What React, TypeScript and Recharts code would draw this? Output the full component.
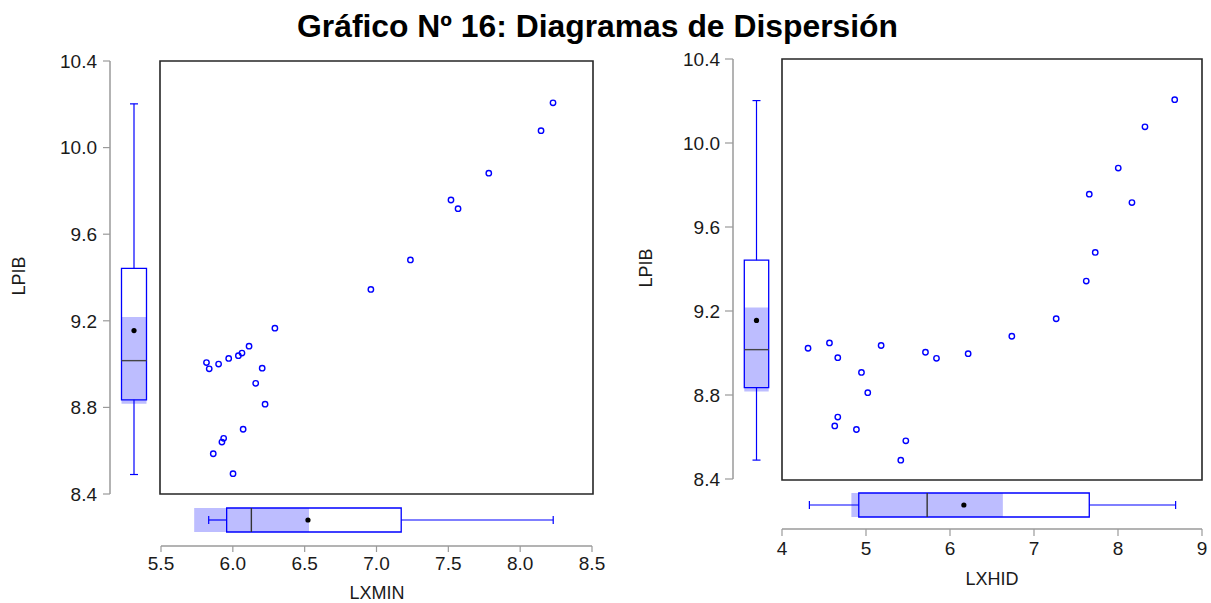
import {
  ScatterChart, ComposedChart, Scatter, XAxis, YAxis, ReferenceArea, ReferenceLine,
} from 'recharts';

// Observations sorted by LPIB (descending); LXMIN and LXHID paired by row
const lpib = [10.207, 10.078, 9.882, 9.758, 9.718, 9.481, 9.345, 9.166, 9.083, 9.051, 9.039, 9.026, 9.007, 9.0, 8.981, 8.978, 8.911, 8.815, 8.699, 8.657, 8.64, 8.586, 8.494];
const lxmin = [8.223, 8.14, 7.778, 7.516, 7.565, 7.235, 6.961, 6.296, 6.117, 6.068, 6.043, 5.976, 5.822, 5.906, 6.208, 5.841, 6.163, 6.228, 6.076, 5.941, 5.929, 5.869, 6.006];
const lxhid = [8.675, 8.321, 8.003, 7.658, 8.166, 7.729, 7.622, 7.264, 6.736, 4.565, 5.18, 4.31, 5.708, 6.216, 4.664, 5.839, 4.946, 5.021, 4.664, 4.628, 4.886, 5.474, 5.414];

// box stats: [min, q1, median, q3, max], mean, median notch [lo, hi]
const lpibBox = [8.49, 8.835, 9.016, 9.442, 10.202];
const lpibMean = 9.155;
const lpibNotch = [8.817, 9.217];
const lxminBox = [5.832, 5.957, 6.129, 7.172, 8.23];
const lxminMean = 6.523;
const lxminNotch = [5.731, 6.53];
const lxhidBox = [4.326, 4.914, 5.728, 7.658, 8.686];
const lxhidMean = 6.165;
const lxhidNotch = [4.826, 6.629];

const lpibTicks = [8.4, 8.8, 9.2, 9.6, 10.0, 10.4];
const lxminTicks = [5.5, 6.0, 6.5, 7.0, 7.5, 8.0, 8.5];
const lxhidTicks = [4, 5, 6, 7, 8, 9];

const FONT = '"Liberation Sans", Arial, sans-serif';
const BLUE = '#0000ff';
const NOTCH = '#bdbdff';
const AXIS = '#9a9a9a';
const tickStyle = { fill: '#1a1a1a', fontSize: 19, fontFamily: FONT };

const dot = (color: string, r: number, filled: boolean) => (p: any) => (
  <circle cx={p.cx} cy={p.cy} r={r} fill={filled ? color : 'none'} stroke={color} strokeWidth={filled ? 0 : 1.4} />
);

function ScatterPanel({ left, top, width, height, margin, xs, xDomain }: any) {
  const data = xs.map((x: number, i: number) => ({ x, y: lpib[i] }));
  return (
    <div style={{ position: 'absolute', left, top }}>
      <ScatterChart width={width} height={height} margin={margin}>
        <XAxis type="number" dataKey="x" domain={xDomain} allowDataOverflow hide />
        <YAxis type="number" dataKey="y" domain={[8.4, 10.4]} allowDataOverflow hide />
        <ReferenceArea x1={xDomain[0]} x2={xDomain[1]} y1={8.4} y2={10.4} fill="none" stroke="#262626" strokeWidth={1.6} ifOverflow="visible" />
        <Scatter data={data} shape={dot(BLUE, 2.7, false)} isAnimationActive={false} />
      </ScatterChart>
    </div>
  );
}

// marginal box on the LPIB axis (vertical)
function VBox({ left, top, width, height, margin, axisWidth, span, cx, half, tickSize, tickMargin }: any) {
  const [mn, q1, md, q3, mx] = lpibBox;
  return (
    <div style={{ position: 'absolute', left, top }}>
      <ComposedChart width={width} height={height} margin={margin}>
        <XAxis type="number" dataKey="x" domain={[0, span]} allowDataOverflow hide />
        <YAxis type="number" dataKey="y" domain={[8.4, 10.4]} ticks={lpibTicks} allowDataOverflow width={axisWidth}
          tickFormatter={(v: number) => v.toFixed(1)} tick={tickStyle} tickSize={tickSize} tickMargin={tickMargin}
          axisLine={{ stroke: AXIS, strokeWidth: 1.5 }} tickLine={{ stroke: AXIS, strokeWidth: 1.2 }} />
        <ReferenceArea x1={cx - half} x2={cx + half} y1={lpibNotch[0]} y2={lpibNotch[1]} fill={NOTCH} fillOpacity={1} stroke="none" />
        <ReferenceArea x1={cx - half} x2={cx + half} y1={q1} y2={q3} fill="none" stroke={BLUE} strokeWidth={1.3} />
        <ReferenceLine segment={[{ x: cx, y: q3 }, { x: cx, y: mx }]} stroke={BLUE} strokeWidth={1.2} />
        <ReferenceLine segment={[{ x: cx, y: q1 }, { x: cx, y: mn }]} stroke={BLUE} strokeWidth={1.2} />
        <ReferenceLine segment={[{ x: cx - 4, y: mx }, { x: cx + 4, y: mx }]} stroke={BLUE} strokeWidth={1.2} />
        <ReferenceLine segment={[{ x: cx - 4, y: mn }, { x: cx + 4, y: mn }]} stroke={BLUE} strokeWidth={1.2} />
        <ReferenceLine segment={[{ x: cx - half, y: md }, { x: cx + half, y: md }]} stroke="#444" strokeWidth={1.4} />
        <Scatter data={[{ x: cx, y: lpibMean }]} shape={dot('#000', 2.6, true)} isAnimationActive={false} />
      </ComposedChart>
    </div>
  );
}

// marginal box on the regressor axis (horizontal)
function HBox({ left, top, width, height, margin, axisHeight, span, cy, half, stats, mean, notch, xDomain, ticks, fmt, tickSize, tickMargin }: any) {
  const [mn, q1, md, q3, mx] = stats;
  return (
    <div style={{ position: 'absolute', left, top }}>
      <ComposedChart width={width} height={height} margin={margin}>
        <XAxis type="number" dataKey="x" domain={xDomain} ticks={ticks} allowDataOverflow height={axisHeight}
          tickFormatter={fmt} tick={tickStyle} tickSize={tickSize} tickMargin={tickMargin} interval={0}
          axisLine={{ stroke: AXIS, strokeWidth: 1.5 }} tickLine={{ stroke: AXIS, strokeWidth: 1.2 }} />
        <YAxis type="number" dataKey="y" domain={[0, span]} allowDataOverflow hide />
        <ReferenceArea x1={notch[0]} x2={notch[1]} y1={cy - half} y2={cy + half} fill={NOTCH} fillOpacity={1} stroke="none" />
        <ReferenceArea x1={q1} x2={q3} y1={cy - half} y2={cy + half} fill="none" stroke={BLUE} strokeWidth={1.3} />
        <ReferenceLine segment={[{ x: q3, y: cy }, { x: mx, y: cy }]} stroke={BLUE} strokeWidth={1.2} />
        <ReferenceLine segment={[{ x: q1, y: cy }, { x: mn, y: cy }]} stroke={BLUE} strokeWidth={1.2} />
        <ReferenceLine segment={[{ x: mx, y: cy - 4 }, { x: mx, y: cy + 4 }]} stroke={BLUE} strokeWidth={1.2} />
        <ReferenceLine segment={[{ x: mn, y: cy - 4 }, { x: mn, y: cy + 4 }]} stroke={BLUE} strokeWidth={1.2} />
        <ReferenceLine segment={[{ x: md, y: cy - half }, { x: md, y: cy + half }]} stroke="#333" strokeWidth={1.4} />
        <Scatter data={[{ x: mean, y: cy }]} shape={dot('#000', 2.6, true)} isAnimationActive={false} />
      </ComposedChart>
    </div>
  );
}

export default function App() {
  return (
    <div style={{ position: 'absolute', left: 0, top: 0, width: 1211, height: 603, background: '#fff', fontFamily: FONT, overflow: 'hidden' }}>
      {/* left panel: LPIB vs LXMIN */}
      <VBox left={0} top={40} width={160} height={470} margin={{ top: 21, right: 0, bottom: 16, left: 0 }}
        axisWidth={110} span={50} cx={24} half={12.5} tickSize={7} tickMargin={6} />
      <ScatterPanel left={150} top={50} width={460} height={460} margin={{ top: 11, right: 17, bottom: 16, left: 10 }}
        xs={lxmin} xDomain={[5.5, 8.5]} />
      <HBox left={100} top={496} width={520} height={107} margin={{ top: 4, right: 28, bottom: 0, left: 61 }}
        axisHeight={57} span={46} cy={26} half={12} stats={lxminBox} mean={lxminMean} notch={lxminNotch}
        xDomain={[5.5, 8.5]} ticks={lxminTicks} fmt={(v: number) => v.toFixed(1)} tickSize={6} tickMargin={5} />

      {/* right panel: LPIB vs LXHID */}
      <VBox left={620} top={40} width={162} height={460} margin={{ top: 19, right: 0, bottom: 21, left: 0 }}
        axisWidth={113} span={49} cx={23.5} half={12.2} tickSize={8} tickMargin={5} />
      <ScatterPanel left={770} top={45} width={441} height={450} margin={{ top: 14, right: 9, bottom: 15, left: 12 }}
        xs={lxhid} xDomain={[4, 9]} />
      <HBox left={720} top={485} width={491} height={118} margin={{ top: 4, right: 9, bottom: 0, left: 62 }}
        axisHeight={74} span={40} cy={24} half={12} stats={lxhidBox} mean={lxhidMean} notch={lxhidNotch}
        xDomain={[4, 9]} ticks={lxhidTicks} fmt={(v: number) => String(v)} tickSize={7} tickMargin={6} />

      <svg width={1211} height={603} style={{ position: 'absolute', left: 0, top: 0, pointerEvents: 'none' }}>
        <text x={597.5} y={37} textAnchor="middle" fontSize={31} fontWeight="bold" fontFamily={FONT} fill="#000"
          textLength={601} lengthAdjust="spacingAndGlyphs">
          Gráfico Nº 16: Diagramas de Dispersión
        </text>
        <text x={25} y={276} textAnchor="middle" fontSize={18} fontFamily={FONT} fill="#1a1a1a" transform="rotate(-90 25 276)">LPIB</text>
        <text x={652} y={268} textAnchor="middle" fontSize={18} fontFamily={FONT} fill="#1a1a1a" transform="rotate(-90 652 268)">LPIB</text>
        <text x={377} y={599} textAnchor="middle" fontSize={18} fontFamily={FONT} fill="#1a1a1a">LXMIN</text>
        <text x={992} y={585} textAnchor="middle" fontSize={18} fontFamily={FONT} fill="#1a1a1a">LXHID</text>
      </svg>
    </div>
  );
}
